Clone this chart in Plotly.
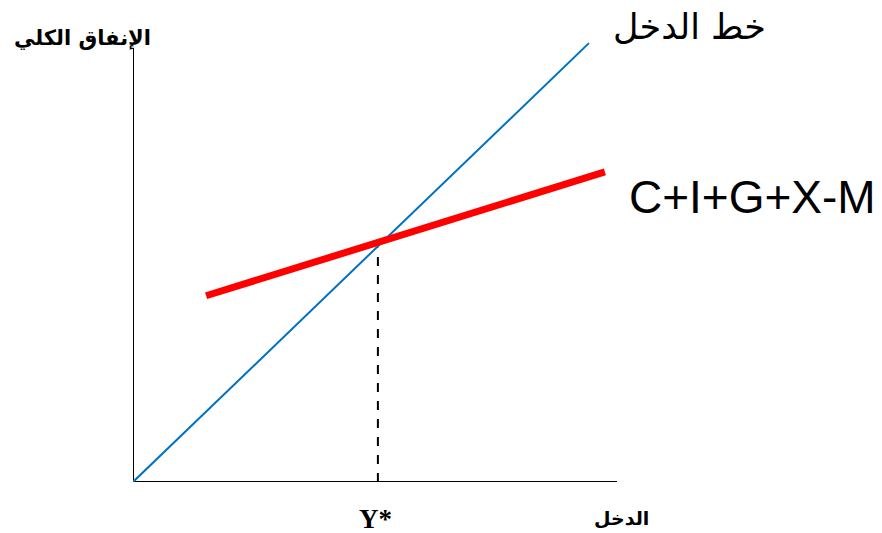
import plotly.graph_objects as go

# --------------------------- DATA ---------------------------
# axis extents (data units)
axis_x = [0, 0, 10]
axis_y = [9.6, 0, 0]

# income line (45 degree)
income_x = [0, 9.42]
income_y = [0, 9.71]

# aggregate expenditure C+I+G+X-M
ae_x = [1.51, 9.75]
ae_y = [4.12, 6.86]

# equilibrium Y*
eq_x = [5.06, 5.06]
eq_y = [0, 5.18]

labels = {
    "y_axis": "الإنفاق الكلي",
    "x_axis": "الدخل",
    "income": "خط الدخل",
    "ae": "C+I+G+X-M",
    "eq": "Y*",
}

X_MAX, Y_MAX = 10, 10

# --------------------------- FIGURE ---------------------------
fig = go.Figure()

fig.add_trace(go.Scatter(x=axis_x, y=axis_y, mode="lines",
                         line=dict(color="black", width=2)))
fig.add_trace(go.Scatter(x=income_x, y=income_y, mode="lines",
                         line=dict(color="#0070C0", width=2)))
fig.add_trace(go.Scatter(x=eq_x, y=eq_y, mode="lines",
                         line=dict(color="black", width=2, dash="dash")))
fig.add_trace(go.Scatter(x=ae_x, y=ae_y, mode="lines",
                         line=dict(color="#FF0000", width=7)))


def label(x, y, text, family, size):
    # labels sit outside the axis ranges, so place them in paper coords
    fig.add_annotation(x=x / X_MAX, y=y / Y_MAX, xref="paper", yref="paper",
                       xanchor="center", yanchor="middle",
                       text=text, showarrow=False,
                       font=dict(family=family, size=size, color="black"))


arabic = "DejaVu Sans"
label(-1.05, 9.82, "<b>" + labels["y_axis"] + "</b>", arabic, 21)
label(10.1, -0.8, "<b>" + labels["x_axis"] + "</b>", arabic, 19)
label(11.49, 10.07, labels["income"], arabic, 35)
label(12.79, 6.31, labels["ae"], "Liberation Sans", 46)
label(5.0, -0.82, "<b>" + labels["eq"] + "</b>", "Liberation Serif", 27)

fig.update_xaxes(range=[0, X_MAX], visible=False)
fig.update_yaxes(range=[0, Y_MAX], visible=False)

fig.update_layout(
    width=882,
    height=533,
    showlegend=False,
    hovermode=False,
    plot_bgcolor="white",
    paper_bgcolor="white",
    margin=dict(l=133, r=265, t=30, b=51),
)

# drop the default 8px body margin so the figure fills the window exactly
fig.write_html("out.html", config={"displayModeBar": False},
               post_script="document.body.style.margin = '0';")
